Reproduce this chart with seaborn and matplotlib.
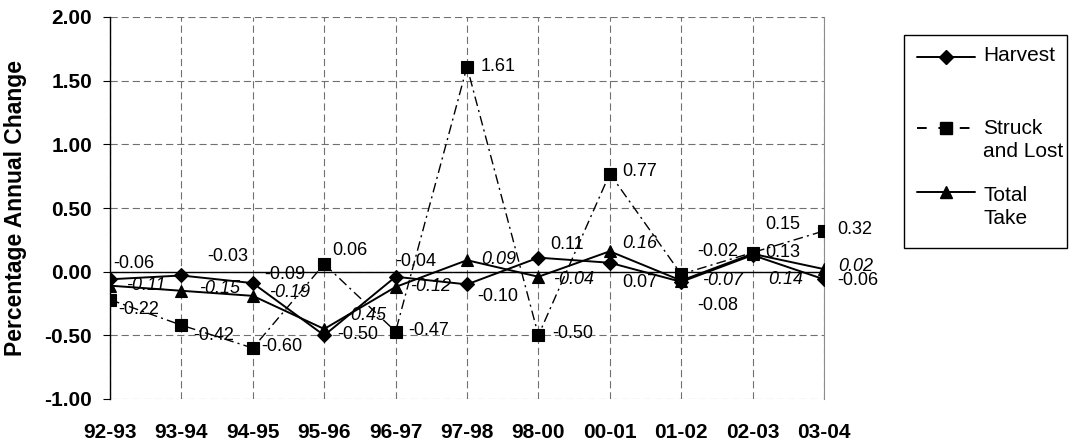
import numpy as np
import pandas as pd
import matplotlib
matplotlib.use("Agg")
import matplotlib.pyplot as plt
from matplotlib import font_manager
from matplotlib.lines import Line2D
from matplotlib.patches import Rectangle
import seaborn as sns

# ---------------- data ----------------
periods = ["92-93", "93-94", "94-95", "95-96", "96-97", "97-98",
           "98-00", "00-01", "01-02", "02-03", "03-04"]
harvest = [-0.06, -0.03, -0.09, -0.50, -0.04, -0.10, 0.11, 0.07, -0.08, 0.13, -0.06]
struck = [-0.22, -0.42, -0.60, 0.06, -0.47, 1.61, -0.50, 0.77, -0.02, 0.15, 0.32]
total = [-0.11, -0.15, -0.19, -0.45, -0.12, 0.09, -0.04, 0.16, -0.07, 0.14, 0.02]
y_ticks = [-1.0, -0.5, 0.0, 0.5, 1.0, 1.5, 2.0]
series_names = ["Harvest", "Struck\nand Lost", "Total\nTake"]
y_title = "Percentage Annual Change"

# label offsets (pixels, right / down) -- layout only
off_h = [(24, -16), (46, -19), (32, -9), (34, -1), (20, -15), (31, 12),
         (29, -13), (30, 20), (37, 24), (30, -3), (34, 1)]
off_s = [(29, 10), (32, 10), (29, -2), (26, -14), (33, -1), (31, 0),
         (34, -2), (30, -2), (37, -23), (30, -28), (31, -1)]
off_t = [(36, 0), (38, -2), (37, -3), (41, -13), (35, 0), (32, -1),
         (35, 3), (30, -8), (41, 0), (33, 26), (32, -3)]

sns.set_theme(style="white")


def has_font(name):
    try:
        font_manager.findfont(font_manager.FontProperties(family=name),
                              fallback_to_default=False)
        return True
    except Exception:
        return False


BASE = "Liberation Sans" if has_font("Liberation Sans") else "DejaVu Sans"
plt.rcParams["font.family"] = [BASE, "DejaVu Sans"]

W, H = 1070, 446
fig = plt.figure(figsize=(W / 100, H / 100), dpi=100)
fig.patch.set_facecolor("white")
ax = fig.add_axes([110 / W, 1 - 399 / H, (824 - 110) / W, (399 - 17) / H])
ax.set_facecolor("white")

x = np.arange(len(periods))
df = pd.DataFrame({"x": x, "harvest": harvest, "struck": struck, "total": total})

dash_dot = (0, (7, 3, 1.5, 3))
sns.lineplot(data=df, x="x", y="harvest", ax=ax, color="black", lw=1.4,
             marker="D", markersize=7.2, markeredgecolor="black",
             markeredgewidth=0.8, zorder=5)
sns.lineplot(data=df, x="x", y="struck", ax=ax, color="black", lw=1.0,
             linestyle=dash_dot, marker="s", markersize=8,
             markeredgecolor="black", markeredgewidth=0.8, zorder=4)
sns.lineplot(data=df, x="x", y="total", ax=ax, color="black", lw=1.4,
             marker="^", markersize=8.8, markeredgecolor="black",
             markeredgewidth=0.8, zorder=6)

PX2PT = 72 / 100
for vals, offs, style in [(harvest, off_h, "normal"), (struck, off_s, "normal"),
                          (total, off_t, "italic")]:
    for xi, v, (dx, dy) in zip(x, vals, offs):
        ax.annotate(f"{v:.2f}", (xi, v), xytext=(dx * PX2PT, -dy * PX2PT),
                    textcoords="offset points", ha="center", va="center",
                    fontsize=13, fontstyle=style, color="black", zorder=7)

ax.set_xlim(0, len(periods) - 1)
ax.set_ylim(-1, 2)
ax.set_yticks(y_ticks)
ax.set_yticklabels([f"{v:.2f}" for v in y_ticks], fontweight="bold", fontsize=15)
ax.set_xticks(x)
ax.set_xticklabels(periods, fontweight="bold", fontsize=15)
ax.tick_params(axis="y", direction="out", length=5, width=0.8, color="black",
               left=True, pad=8, labelcolor="black")
ax.tick_params(axis="x", length=0, pad=17, labelcolor="black")

ax.grid(True, which="major", color="#707070", linestyle=(0, (6.5, 3.5)), lw=0.8)
ax.axhline(0, color="black", lw=1.0, zorder=3)
for side in ["top", "bottom"]:
    ax.spines[side].set_visible(False)
ax.spines["left"].set_color("black")
ax.spines["left"].set_linewidth(1.0)
ax.spines["right"].set_color("#8c8c8c")
ax.spines["right"].set_linewidth(0.8)

ax.set_xlabel("")
ax.set_ylabel(y_title, fontweight="bold", fontsize=16.5, color="black")
ax.yaxis.set_label_coords((27 - 110) / (824 - 110), 0.5)


# ---------------- legend (drawn in figure pixels) ----------------
def fx(px):
    return px / W


def fy(py):
    return 1 - py / H


fig.patches.append(Rectangle((fx(904), fy(248)), fx(1067) - fx(904), fy(35) - fy(248),
                             transform=fig.transFigure, fill=False,
                             edgecolor="black", lw=1.0))
handles = [
    dict(y=57, marker="D", ms=7.2, ls="-", lw=1.4),
    dict(y=128, marker="s", ms=8, ls=(0, (5, 6)), lw=1.4),
    dict(y=192, marker="^", ms=8.8, ls="-", lw=1.4),
]
text_tops = [46, 119, 186]
for hd, name, ttop in zip(handles, series_names, text_tops):
    ln = Line2D([fx(917), fx(946), fx(975)], [fy(hd["y"])] * 3,
                transform=fig.transFigure, color="black", lw=hd["lw"],
                linestyle=hd["ls"], marker=hd["marker"], markersize=hd["ms"],
                markevery=[1], markerfacecolor="black", markeredgecolor="black")
    fig.lines.append(ln)
    fig.text(fx(983), fy(ttop), name, ha="left", va="top", fontsize=15,
             linespacing=1.25, color="black")

fig.savefig("out.png", dpi=100, facecolor="white")
